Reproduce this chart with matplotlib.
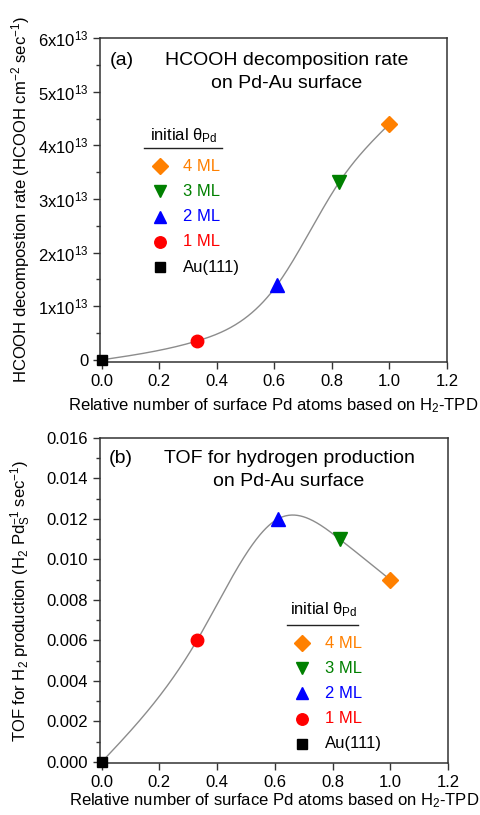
import numpy as np
import matplotlib
matplotlib.use("Agg")
import matplotlib.pyplot as plt
from matplotlib.ticker import AutoMinorLocator

plt.rcParams["font.family"] = ["Liberation Sans", "DejaVu Sans"]
plt.rcParams["mathtext.fontset"] = "custom"
plt.rcParams["mathtext.rm"] = "Liberation Sans"
plt.rcParams["mathtext.it"] = "Liberation Sans:italic"
plt.rcParams["mathtext.bf"] = "Liberation Sans:bold"

# ---- data ----
pd_fraction = [0.0, 0.33, 0.61, 0.825, 1.0]
hcooh_rate = [0.0, 0.35e13, 1.40e13, 3.31e13, 4.40e13]
h2_tof = [0.0, 0.006, 0.012, 0.011, 0.009]
coverage = ["Au(111)", "1 ML", "2 ML", "3 ML", "4 ML"]
markers = ["s", "o", "^", "v", "D"]
colors = ["black", "#ff0000", "#0000ff", "#008000", "#ff8000"]
msizes = [7.5, 9, 10, 10, 8.5]

rate_ticks = [0, 1e13, 2e13, 3e13, 4e13, 5e13, 6e13]
rate_ticklabels = ["0"] + [f"{i}x10$^{{13}}$" for i in range(1, 7)]
x_ticks = [0.0, 0.2, 0.4, 0.6, 0.8, 1.0, 1.2]
tof_ticks = [0.0, 0.002, 0.004, 0.006, 0.008, 0.010, 0.012, 0.014, 0.016]


def natural_spline(x, y, num=300):
    # smooth guide line through the points (natural cubic spline)
    x = np.asarray(x, float)
    y = np.asarray(y, float)
    n = len(x)
    h = np.diff(x)
    A = np.zeros((n, n))
    b = np.zeros(n)
    A[0, 0] = A[-1, -1] = 1
    for i in range(1, n - 1):
        A[i, i - 1] = h[i - 1]
        A[i, i] = 2 * (h[i - 1] + h[i])
        A[i, i + 1] = h[i]
        b[i] = 6 * ((y[i + 1] - y[i]) / h[i] - (y[i] - y[i - 1]) / h[i - 1])
    M = np.linalg.solve(A, b)
    xs = np.linspace(x[0], x[-1], num)
    k = np.clip(np.searchsorted(x, xs) - 1, 0, n - 2)
    hh = x[k + 1] - x[k]
    t0 = x[k + 1] - xs
    t1 = xs - x[k]
    ys = (M[k] * t0**3 + M[k + 1] * t1**3) / (6 * hh) \
        + (y[k] / hh - M[k] * hh / 6) * t0 + (y[k + 1] / hh - M[k + 1] * hh / 6) * t1
    return xs, ys


def style_axes(ax):
    for s in ax.spines.values():
        s.set_linewidth(1.1)
        s.set_color("#333333")
    ax.tick_params(axis="both", which="major", direction="out", length=5, width=1,
                   labelsize=12, color="#333333")
    ax.tick_params(axis="y", which="minor", direction="out", length=3, width=1,
                   color="#333333")
    ax.yaxis.set_minor_locator(AutoMinorLocator(2))
    ax.set_xlim(-0.006, 1.2)
    ax.set_xticks(x_ticks)
    ax.set_xticklabels([f"{t:.1f}" for t in x_ticks])
    ax.set_xlabel("Relative number of surface Pd atoms based on H$_2$-TPD", fontsize=12)


def draw_points(ax, yvals):
    xs, ys = natural_spline(pd_fraction, yvals)
    ax.plot(xs, ys, color="#8c8c8c", lw=1.0, zorder=2)
    for x, y, m, c, s in zip(pd_fraction, yvals, markers, colors, msizes):
        ax.plot(x, y, marker=m, color=c, markersize=s, linestyle="none",
                zorder=3, clip_on=False)


def draw_key(ax, x_title, y_title, line_x, y_line, x_mark, x_text, y_top, dy):
    ax.text(x_title, y_title, r"initial θ$_\mathrm{Pd}$", transform=ax.transAxes,
            fontsize=12, ha="left", va="center")
    ax.plot(line_x, [y_line, y_line], color="#222222", lw=1.0, transform=ax.transAxes)
    for i, j in enumerate(range(len(coverage) - 1, -1, -1)):
        y = y_top - i * dy
        ax.plot(x_mark, y, marker=markers[j], color=colors[j],
                markersize=msizes[j] * 0.92, transform=ax.transAxes, linestyle="none")
        ax.text(x_text, y, coverage[j], color=colors[j], fontsize=12,
                transform=ax.transAxes, ha="left", va="center")


fig = plt.figure(figsize=(4.8, 8.15), dpi=100)
ax_a = fig.add_axes([0.2083, 0.5558, 0.7229, 0.3975])
ax_b = fig.add_axes([0.2083, 0.0638, 0.7250, 0.3988])

# ---- panel (a) ----
style_axes(ax_a)
draw_points(ax_a, hcooh_rate)
ax_a.set_ylim(-0.04e13, 6e13)
ax_a.set_yticks(rate_ticks)
ax_a.set_yticklabels(rate_ticklabels)
ax_a.set_ylabel("HCOOH decompostion rate (HCOOH cm$^{-2}$ sec$^{-1}$)", fontsize=12)
ax_a.yaxis.set_label_coords(-0.196, 0.5)
ax_a.xaxis.set_label_coords(0.5, -0.107)
ax_a.text(0.029, 0.932, "(a)", transform=ax_a.transAxes, fontsize=14, va="center")
ax_a.text(0.539, 0.932, "HCOOH decomposition rate", transform=ax_a.transAxes,
          fontsize=14, ha="center", va="center")
ax_a.text(0.539, 0.861, "on Pd-Au surface", transform=ax_a.transAxes,
          fontsize=14, ha="center", va="center")
draw_key(ax_a, 0.144, 0.698, [0.127, 0.352], 0.660, 0.173, 0.239, 0.605, 0.078)

# ---- panel (b) ----
style_axes(ax_b)
draw_points(ax_b, h2_tof)
ax_b.set_ylim(-0.00005, 0.016)
ax_b.set_yticks(tof_ticks)
ax_b.set_yticklabels([f"{t:.3f}" for t in tof_ticks])
ax_b.set_ylabel(r"TOF for H$_2$ production (H$_2$ Pd$_\mathrm{S}^{-1}$ sec$^{-1}$)",
                fontsize=12)
ax_b.yaxis.set_label_coords(-0.193, 0.5)
ax_b.xaxis.set_label_coords(0.5, -0.088)
ax_b.text(0.025, 0.938, "(b)", transform=ax_b.transAxes, fontsize=14, va="center")
ax_b.text(0.543, 0.938, "TOF for hydrogen production", transform=ax_b.transAxes,
          fontsize=14, ha="center", va="center")
ax_b.text(0.543, 0.865, "on Pd-Au surface", transform=ax_b.transAxes,
          fontsize=14, ha="center", va="center")
draw_key(ax_b, 0.546, 0.471, [0.537, 0.741], 0.425, 0.580, 0.647, 0.369, 0.0775)

fig.savefig("out.png", dpi=100)
